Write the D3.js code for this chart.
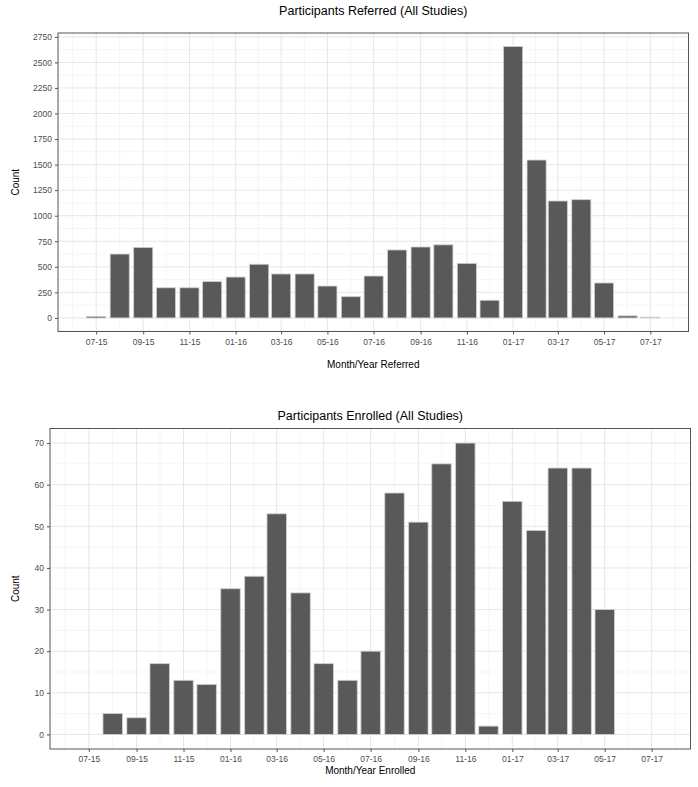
<!DOCTYPE html>
<html>
<head>
<meta charset="utf-8">
<script src="https://cdn.jsdelivr.net/npm/d3@7"></script>
<style>
  body { margin: 0; background: #fff; }
  svg { display: block; font-family: "Liberation Sans", Arial, sans-serif; }
</style>
</head>
<body>
<svg id="chart" width="698" height="787"></svg>
<script>
// ---- Data ----
const months = ["2015-07","2015-08","2015-09","2015-10","2015-11","2015-12",
  "2016-01","2016-02","2016-03","2016-04","2016-05","2016-06",
  "2016-07","2016-08","2016-09","2016-10","2016-11","2016-12",
  "2017-01","2017-02","2017-03","2017-04","2017-05","2017-06","2017-07"];
const referred = [15, 625, 690, 295, 295, 355, 400, 525, 430, 430, 312, 208,
  410, 665, 694, 715, 534, 173, 2655, 1545, 1144, 1157, 342, 20, 8];
const enrolled = [0, 5, 4, 17, 13, 12, 35, 38, 53, 34, 17, 13,
  20, 58, 51, 65, 70, 2, 56, 49, 64, 64, 30, 0, 0];
const tickMonths = ["2015-07","2015-09","2015-11","2016-01","2016-03","2016-05",
  "2016-07","2016-09","2016-11","2017-01","2017-03","2017-05","2017-07"];
const referredYTicks = [0,250,500,750,1000,1250,1500,1750,2000,2250,2500,2750];
const enrolledYTicks = [0,10,20,30,40,50,60,70];

const titles = ["Participants Referred (All Studies)", "Participants Enrolled (All Studies)"];
const xTitles = ["Month/Year Referred", "Month/Year Enrolled"];

// ---- Drawing ----
const svg = d3.select("#chart");
const parse = d3.utcParse("%Y-%m");
const fmt = d3.utcFormat("%m-%y");
const DAY = 86400000;
const halfW = 0.9 * 28 / 2 * DAY;

function drawPanel(cfg) {
  const { values, yTicks, left, right, top, bottom, title, xTitle, xTitleY, titleY } = cfg;
  const dates = months.map(parse);
  const lo = +dates[0] - halfW, hi = +dates[dates.length - 1] + halfW;
  const padX = (hi - lo) * 0.05;
  const x = d3.scaleUtc().domain([new Date(lo - padX), new Date(hi + padX)]).range([left, right]);
  const vmax = d3.max(values);
  const padY = vmax * 0.05;
  const y = d3.scaleLinear().domain([-padY, vmax + padY]).range([bottom, top]);

  const g = svg.append("g");
  g.append("rect").attr("x", left).attr("y", top).attr("width", right - left).attr("height", bottom - top).attr("fill", "#fff");

  // minor grid lines
  const tDates = tickMonths.map(parse);
  const xMinor = [];
  xMinor.push(new Date(+tDates[0] - (tDates[1] - tDates[0]) / 2));
  for (let i = 0; i < tDates.length - 1; i++) xMinor.push(new Date((+tDates[i] + +tDates[i + 1]) / 2));
  xMinor.push(new Date(+tDates[tDates.length - 1] + (tDates[tDates.length - 1] - tDates[tDates.length - 2]) / 2));
  const yStep = yTicks[1] - yTicks[0];
  const yMinor = [];
  for (let i = -1; i < yTicks.length; i++) {
    const v = (i < 0 ? yTicks[0] - yStep : yTicks[i]) + yStep / 2;
    if (v > y.domain()[0] && v < y.domain()[1]) yMinor.push(v);
  }
  g.selectAll(".xminor").data(xMinor.filter(d => x(d) > left && x(d) < right)).join("line")
    .attr("x1", d => x(d)).attr("x2", d => x(d)).attr("y1", top).attr("y2", bottom)
    .attr("stroke", "#f2f2f2").attr("stroke-width", 0.8);
  g.selectAll(".yminor").data(yMinor).join("line")
    .attr("x1", left).attr("x2", right).attr("y1", d => y(d)).attr("y2", d => y(d))
    .attr("stroke", "#f2f2f2").attr("stroke-width", 0.8);
  // major grid
  g.selectAll(".xmajor").data(tDates).join("line")
    .attr("x1", d => x(d)).attr("x2", d => x(d)).attr("y1", top).attr("y2", bottom)
    .attr("stroke", "#e6e6e6").attr("stroke-width", 1);
  g.selectAll(".ymajor").data(yTicks).join("line")
    .attr("x1", left).attr("x2", right).attr("y1", d => y(d)).attr("y2", d => y(d))
    .attr("stroke", "#e6e6e6").attr("stroke-width", 1);

  // bars
  const data = months.map((m, i) => ({ date: dates[i], v: values[i] })).filter(d => d.v > 0);
  g.selectAll(".bar").data(data).join("rect")
    .attr("x", d => x(new Date(+d.date - halfW)))
    .attr("width", d => x(new Date(+d.date + halfW)) - x(new Date(+d.date - halfW)))
    .attr("y", d => y(d.v))
    .attr("height", d => Math.max(0.5, y(0) - y(d.v)))
    .attr("fill", "#595959")
    .attr("stroke", "#cfcfcf").attr("stroke-width", 0.8);

  // border
  g.append("rect").attr("x", left).attr("y", top).attr("width", right - left).attr("height", bottom - top)
    .attr("fill", "none").attr("stroke", "#555").attr("stroke-width", 1);

  // axes
  const xAxis = d3.axisBottom(x).tickValues(tDates).tickFormat(fmt).tickSize(3).tickPadding(4);
  const gx = g.append("g").attr("transform", `translate(0,${bottom})`).call(xAxis);
  gx.select(".domain").remove();
  gx.selectAll(".tick line").attr("stroke", "#555");
  gx.selectAll(".tick text").attr("fill", "#4d4d4d").attr("font-size", 8.5)
    .attr("font-family", "Liberation Sans, Arial, sans-serif");

  const yAxis = d3.axisLeft(y).tickValues(yTicks).tickFormat(d3.format("d")).tickSize(3).tickPadding(3);
  const gy = g.append("g").attr("transform", `translate(${left},0)`).call(yAxis);
  gy.select(".domain").remove();
  gy.selectAll(".tick line").attr("stroke", "#555");
  gy.selectAll(".tick text").attr("fill", "#4d4d4d").attr("font-size", 8.5)
    .attr("font-family", "Liberation Sans, Arial, sans-serif");

  // titles
  g.append("text").attr("x", (left + right) / 2).attr("y", titleY).attr("text-anchor", "middle")
    .attr("font-size", 12.5).attr("fill", "#000").text(title);
  g.append("text").attr("x", (left + right) / 2).attr("y", xTitleY).attr("text-anchor", "middle")
    .attr("font-size", 10).attr("fill", "#000").text(xTitle);
  g.append("text").attr("transform", `translate(${cfg.yTitleX},${(top + bottom) / 2}) rotate(-90)`)
    .attr("text-anchor", "middle").attr("font-size", 10).attr("fill", "#000").text("Count");
}

drawPanel({ values: referred, yTicks: referredYTicks, left: 58, right: 688.5, top: 33, bottom: 331.5,
  title: titles[0], xTitle: xTitles[0], titleY: 15, xTitleY: 368, yTitleX: 19 });
drawPanel({ values: enrolled, yTicks: enrolledYTicks, left: 50, right: 690.5, top: 428.5, bottom: 749,
  title: titles[1], xTitle: xTitles[1], titleY: 420, xTitleY: 774, yTitleX: 19 });
</script>
</body>
</html>
